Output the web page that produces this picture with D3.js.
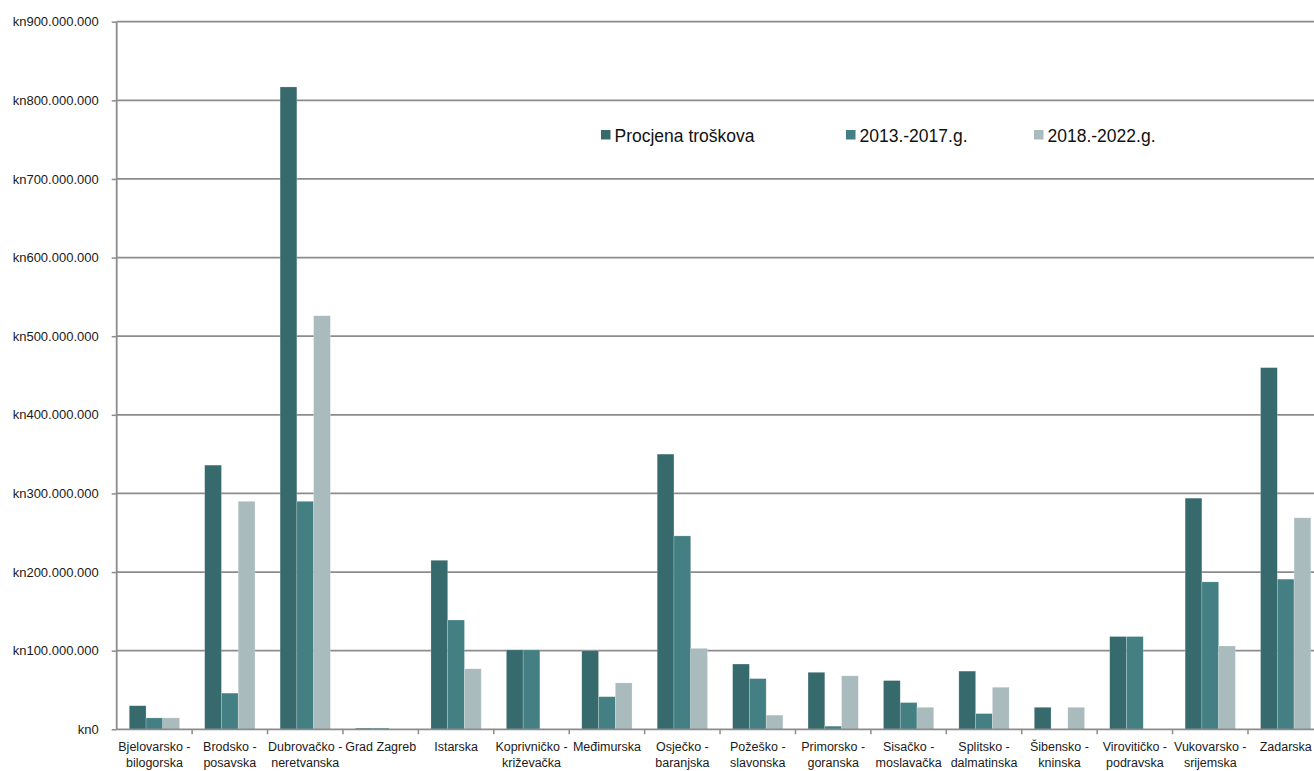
<!DOCTYPE html>
<html>
<head>
<meta charset="utf-8">
<script src="https://cdn.jsdelivr.net/npm/d3@7"></script>
<style>
  html, body { margin: 0; padding: 0; background: #fff; overflow: hidden; }
  svg { display: block; font-family: "Liberation Sans", Arial, sans-serif; }
</style>
</head>
<body>
<svg id="chart" width="1314" height="771"></svg>
<script>
const categories = [
  "Bjelovarsko - bilogorska", "Brodsko - posavska", "Dubrovačko - neretvanska", "Grad Zagreb",
  "Istarska", "Koprivničko - križevačka", "Međimurska", "Osječko - baranjska",
  "Požeško - slavonska", "Primorsko - goranska", "Sisačko - moslavačka", "Splitsko - dalmatinska",
  "Šibensko - kninska", "Virovitičko - podravska", "Vukovarsko - srijemska", "Zadarska"
];
const seriesNames = ["Procjena troškova", "2013.-2017.g.", "2018.-2022.g."];
// values in millions of kuna
const procjena = [30, 336, 817, 1.5, 215, 101, 100, 350, 83, 72.5, 62, 74, 28, 118, 294, 460];
const p2013_2017 = [14.5, 46, 290, 1.5, 139, 101, 41.5, 246, 64.5, 4, 34, 20, 0, 118, 187.5, 191];
const p2018_2022 = [14.5, 290, 526, 0, 77, 0, 59, 103, 18, 68, 28, 53.5, 28, 0, 106, 269];
const yTicks = [0, 100, 200, 300, 400, 500, 600, 700, 800, 900];
const colors = ["#366a6c", "#437f83", "#a9bbbd"];

(function () {
const seriesValues = [procjena, p2013_2017, p2018_2022];
const svg = d3.select("#chart");

const pLeft = 116.7, pRight = 1323.4, pTop = 21.7, pBottom = 729.3;

const x = d3.scaleBand().domain(categories).range([pLeft, pRight]).paddingInner(1/3).paddingOuter(1/6);
const xStep = d3.scaleBand().domain(categories).range([pLeft, pRight]).padding(0);
const xs = d3.scaleBand().domain(d3.range(3)).range([0, x.bandwidth()]).padding(0);
const y = d3.scaleLinear().domain([0, 900]).range([pBottom, pTop]);

// gridlines
svg.append("g").selectAll("line").data(yTicks.filter(d => d > 0)).join("line")
  .attr("x1", pLeft).attr("x2", 1314)
  .attr("y1", d => y(d)).attr("y2", d => y(d))
  .attr("stroke", "#8c8c8c").attr("stroke-width", 1.8);

// bars
const groups = svg.append("g").selectAll("g").data(categories).join("g")
  .attr("transform", d => `translate(${x(d)},0)`);
groups.selectAll("rect").data((d, i) => seriesValues.map((s, k) => ({k, v: s[i]})))
  .join("rect")
  .attr("x", d => xs(d.k))
  .attr("width", xs.bandwidth())
  .attr("y", d => y(d.v))
  .attr("height", d => Math.max(0, pBottom - y(d.v)))
  .attr("fill", d => colors[d.k])
  .attr("stroke", "rgba(255,255,255,0.35)")
  .attr("stroke-width", 0.6)
  .style("display", d => d.v > 0 ? null : "none");

// y axis
const yAxis = d3.axisLeft(y).tickValues(yTicks).tickSize(5).tickPadding(13)
  .tickFormat(d => d === 0 ? "kn0" : "kn" + d3.format(",")(d * 1e6).replace(/,/g, "."));
const gy = svg.append("g").attr("transform", `translate(${pLeft},0)`).call(yAxis);
gy.select(".domain").attr("stroke", "#8c8c8c").attr("stroke-width", 1.8).attr("d", `M0,${pTop}V${pBottom}`);
gy.selectAll(".tick line").attr("stroke", "#8c8c8c").attr("stroke-width", 1.5);
gy.selectAll(".tick text").attr("font-size", 13).attr("fill", "#1a1a1a")
  .attr("font-family", "Liberation Sans, Arial, sans-serif");

// x axis
const gx = svg.append("g").attr("transform", `translate(0,${pBottom})`);
gx.append("line").attr("x1", pLeft).attr("x2", 1314).attr("y1", 0).attr("y2", 0)
  .attr("stroke", "#8c8c8c").attr("stroke-width", 1.8);
gx.selectAll("line.tk").data(categories.slice(1)).join("line").attr("class", "tk")
  .attr("x1", d => xStep(d)).attr("x2", d => xStep(d))
  .attr("y1", 0).attr("y2", 5).attr("stroke", "#8c8c8c").attr("stroke-width", 1.5);
const labels = gx.selectAll("text").data(categories).join("text")
  .attr("text-anchor", "middle")
  .attr("font-size", 12.5).attr("fill", "#1a1a1a")
  .attr("transform", d => `translate(${x(d) + x.bandwidth() / 2},0)`);
labels.each(function(d) {
  const parts = d.split(" - ");
  const lines = parts.length > 1 ? [parts[0] + " -", parts[1]] : [d];
  d3.select(this).selectAll("tspan").data(lines).join("tspan")
    .attr("x", 0).attr("y", (l, i) => 21.5 + i * 16).text(l => l);
});

// legend
const legendX = [601, 846, 1034];
const lg = svg.append("g").selectAll("g").data(seriesNames).join("g")
  .attr("transform", (d, i) => `translate(${legendX[i]},130)`);
lg.append("rect").attr("width", 9.5).attr("height", 9.5).attr("fill", (d, i) => colors[i]);
lg.append("text").attr("x", 13.5).attr("y", 11.5).attr("font-size", 17.5).attr("fill", "#111").text(d => d);
})();
</script>
</body>
</html>
